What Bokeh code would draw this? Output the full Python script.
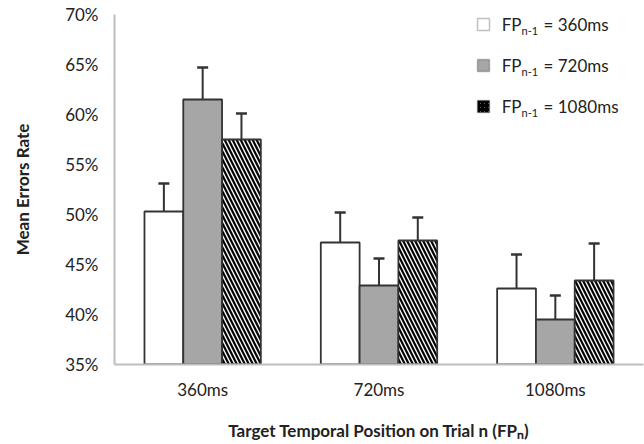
from bokeh.plotting import figure
from bokeh.models import (ColumnDataSource, FactorRange, Range1d, FixedTicker,
                          NumeralTickFormatter, Whisker, TeeHead, Label, BoxAnnotation)
from bokeh.transform import dodge
from bokeh.embed import file_html
from bokeh.resources import INLINE

# ---- data ----
categories = ["360ms", "720ms", "1080ms"]
series_names = ["FP n-1 = 360ms", "FP n-1 = 720ms", "FP n-1 = 1080ms"]
rate_360 = [0.503, 0.472, 0.426]
rate_720 = [0.615, 0.429, 0.395]
rate_1080 = [0.575, 0.474, 0.434]
err_360 = [0.028, 0.030, 0.034]
err_720 = [0.032, 0.027, 0.024]
err_1080 = [0.026, 0.023, 0.037]
y_ticks = [0.35, 0.40, 0.45, 0.50, 0.55, 0.60, 0.65, 0.70]

FONT = "Lato"
TXT = "#222222"
EDGE = "#333333"
GRAY = "#a6a6a6"
FS = "17px"

src = ColumnDataSource(dict(
    cats=categories,
    r360=rate_360, r720=rate_720, r1080=rate_1080,
    h360=[v + e for v, e in zip(rate_360, err_360)],
    h720=[v + e for v, e in zip(rate_720, err_720)],
    h1080=[v + e for v, e in zip(rate_1080, err_1080)],
))

p = figure(width=644, height=444, output_backend="svg", toolbar_location=None,
           x_range=FactorRange(factors=categories, range_padding=0),
           y_range=Range1d(0.35, 0.70),
           min_border_left=114, min_border_right=1, min_border_top=14, min_border_bottom=80)
p.outline_line_color = None
p.xgrid.visible = False
p.ygrid.visible = False

off = 0.22
w = 0.22
HATCH = dict(fill_color="white", hatch_pattern="left_diagonal_line", hatch_color="black",
             hatch_weight=2.2, hatch_scale=8)
styles = [
    ("r360", "h360", -off, dict(fill_color="white")),
    ("r720", "h720", 0.0, dict(fill_color=GRAY)),
    ("r1080", "h1080", off, HATCH),
]
for col, hi, o, st in styles:
    p.vbar(x=dodge("cats", o, range=p.x_range), top=col, bottom=0, width=w, source=src,
           line_color=EDGE, line_width=1.8, **st)
for col, hi, o, st in styles:
    wk = Whisker(base=dodge("cats", o, range=p.x_range), lower=col, upper=hi, source=src,
                 line_color=EDGE, line_width=2,
                 upper_head=TeeHead(size=11, line_color=EDGE, line_width=2.5), lower_head=None)
    p.add_layout(wk)

# axes
p.yaxis.ticker = FixedTicker(ticks=y_ticks)
p.yaxis.formatter = NumeralTickFormatter(format="0%")
p.yaxis.axis_label = "Mean Errors Rate"
p.xaxis.axis_label = "Target Temporal Position on Trial n (FP\u2099)"
for ax in (p.xaxis[0], p.yaxis[0]):
    ax.axis_line_color = "#bdbdbd"
    ax.axis_line_width = 2
    ax.major_tick_line_color = None
    ax.minor_tick_line_color = None
    ax.major_tick_out = 0
    ax.major_label_text_font = FONT
    ax.major_label_text_font_size = FS
    ax.major_label_text_color = TXT
    ax.axis_label_text_font = FONT
    ax.axis_label_text_font_style = "bold"
    ax.axis_label_text_font_size = FS
    ax.axis_label_text_color = TXT
p.yaxis.major_label_standoff = 16
p.yaxis.axis_label_standoff = 29
p.xaxis.major_label_standoff = 14
p.xaxis.axis_label_standoff = 17

# frame geometry (screen units are relative to the frame, y upward)
FL, FB = 114, 364

def lab(x, y, text, size=FS, style="normal", align="left"):
    p.add_layout(Label(x=x - FL, y=FB - y, x_units="screen", y_units="screen", text=text,
                       text_font=FONT, text_font_size=size, text_font_style=style,
                       text_color=TXT, text_align=align, text_baseline="middle"))

# legend
rows = [24, 65, 106]
legend_rows = [
    dict(fill_color="white"),
    dict(fill_color=GRAY),
    dict(fill_color="white", hatch_pattern="left_diagonal_line", hatch_color="black",
         hatch_weight=2.0, hatch_scale=4),
]
for yc, name, st in zip(rows, series_names, legend_rows):
    p.add_layout(BoxAnnotation(left=477 - FL, right=489 - FL, top=FB - (yc - 6), bottom=FB - (yc + 6),
                               left_units="screen", right_units="screen",
                               top_units="screen", bottom_units="screen",
                               line_color=EDGE, line_width=1.5, fill_alpha=1, **st))
    lab(521, yc, name.split(" ")[0], align="right")
    lab(521, yc + 6, name.split(" ")[1], size="11px")
    lab(543, yc, " ".join(name.split(" ")[2:]))

open("out.html", "w").write(file_html(p, INLINE))
